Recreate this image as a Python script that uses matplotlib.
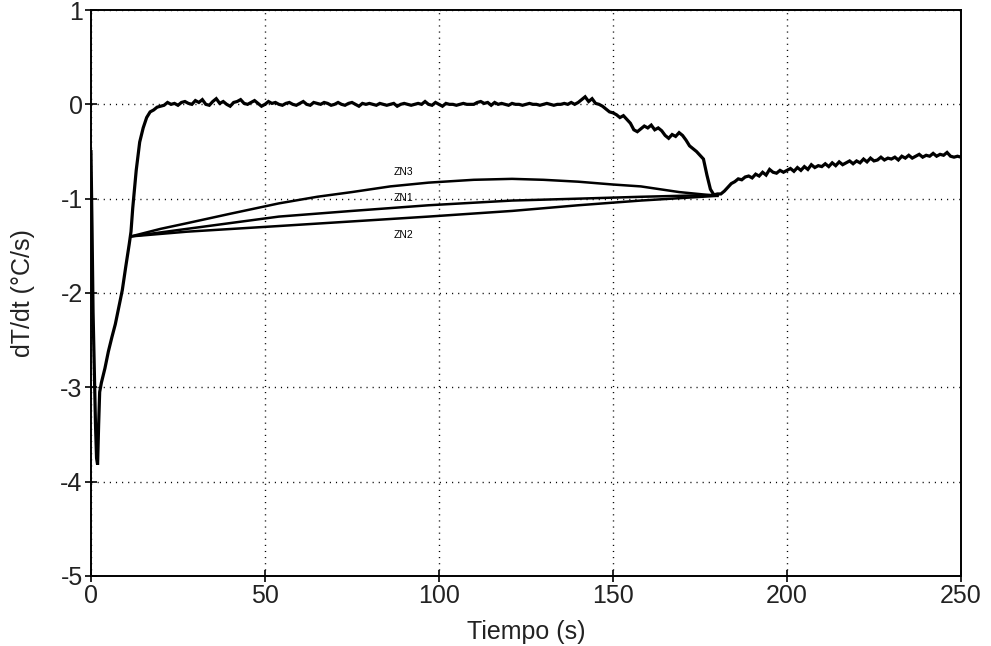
import numpy as np
import matplotlib
matplotlib.use("Agg")
import matplotlib.pyplot as plt

plt.rcParams['font.family'] = ['Liberation Sans', 'DejaVu Sans']
plt.rcParams['axes.unicode_minus'] = False

# ---- data ----
t_start = [0.0, 0.3, 0.6, 1.0, 1.3, 1.6, 1.9, 2.2, 2.5, 3.0, 4.0, 5.0, 6.0, 7.0, 8.0,
           9.0, 10.0, 11.0, 11.5, 12.0, 12.5, 13.0, 13.5, 14.0, 15.0, 16.0, 17.0, 18.0, 19.0]
v_start = [-0.50, -1.30, -2.20, -2.90, -3.40, -3.75, -3.82, -3.40, -3.05, -2.95, -2.80, -2.62,
           -2.47, -2.33, -2.15, -1.97, -1.72, -1.48, -1.35, -1.10, -0.90, -0.70, -0.55, -0.40,
           -0.25, -0.14, -0.08, -0.06, -0.03]

t_main = np.arange(20, 251)
v_main = [
    -0.02, -0.01, 0.02, 0.00, 0.01, -0.01, 0.02, 0.03, 0.01, 0.00,      # 20-29
    0.04, 0.02, 0.05, 0.00, -0.01, 0.03, 0.06, 0.01, 0.03, 0.00,        # 30-39
    -0.02, 0.02, 0.03, 0.05, 0.01, 0.00, 0.02, 0.04, 0.01, -0.02,       # 40-49
    0.00, 0.03, 0.01, 0.02, 0.00, -0.01, 0.01, 0.02, 0.00, -0.01,       # 50-59
    0.01, 0.03, 0.00, -0.01, 0.02, 0.01, 0.00, 0.02, 0.01, -0.01,       # 60-69
    0.00, 0.02, 0.00, -0.01, 0.01, 0.02, 0.00, -0.02, 0.01, 0.00,       # 70-79
    0.01, 0.00, -0.01, 0.01, 0.00, -0.01, 0.00, 0.01, -0.02, 0.00,      # 80-89
    0.01, 0.00, -0.01, 0.00, 0.01, 0.00, 0.03, 0.00, -0.01, 0.02,       # 90-99
    0.00, -0.02, 0.01, 0.00, 0.00, -0.01, 0.00, 0.01, 0.00, 0.00,       # 100-109
    0.00, 0.02, 0.03, 0.01, 0.02, -0.01, 0.02, 0.00, 0.01, 0.00,        # 110-119
    -0.01, 0.01, 0.00, 0.00, -0.01, 0.00, 0.01, 0.00, 0.00, -0.01,      # 120-129
    0.00, 0.01, 0.00, -0.01, 0.00, 0.00, 0.01, 0.00, 0.02, 0.00,        # 130-139
    0.02, 0.05, 0.08, 0.03, 0.06, 0.01, 0.00, -0.02, -0.05, -0.08,      # 140-149
    -0.09, -0.11, -0.14, -0.12, -0.16, -0.20, -0.27, -0.29, -0.26, -0.23,   # 150-159
    -0.25, -0.22, -0.27, -0.25, -0.28, -0.33, -0.36, -0.32, -0.34, -0.30,   # 160-169
    -0.33, -0.38, -0.44, -0.47, -0.50, -0.54, -0.58, -0.75, -0.90, -0.96,   # 170-179
    -0.95, -0.95, -0.92, -0.88, -0.84, -0.82, -0.79, -0.80, -0.77, -0.76,   # 180-189
    -0.78, -0.74, -0.76, -0.72, -0.75, -0.69, -0.72, -0.73, -0.70, -0.72,   # 190-199
    -0.70, -0.68, -0.71, -0.67, -0.70, -0.66, -0.69, -0.64, -0.67, -0.65,   # 200-209
    -0.66, -0.63, -0.66, -0.62, -0.65, -0.61, -0.64, -0.62, -0.60, -0.63,   # 210-219
    -0.60, -0.62, -0.58, -0.61, -0.57, -0.60, -0.59, -0.56, -0.59, -0.57,   # 220-229
    -0.58, -0.56, -0.59, -0.55, -0.57, -0.54, -0.57, -0.55, -0.53, -0.56,   # 230-239
    -0.54, -0.55, -0.52, -0.55, -0.53, -0.54, -0.51, -0.55, -0.56, -0.55,   # 240-249
    -0.56,                                                                  # 250
]

zn3_t = [11.5, 20, 27.6, 40, 54, 65, 75, 86, 97, 110, 121, 130, 140, 150, 158, 169, 180]
zn3_v = [-1.40, -1.32, -1.26, -1.16, -1.05, -0.98, -0.93, -0.87, -0.83, -0.80, -0.79,
         -0.80, -0.82, -0.85, -0.87, -0.93, -0.97]
zn1_t = [11.5, 27.6, 54, 75, 97, 121, 140, 158, 180]
zn1_v = [-1.40, -1.32, -1.19, -1.13, -1.07, -1.02, -1.00, -0.98, -0.96]
zn2_t = [11.5, 27.6, 54, 97, 121, 140, 158, 180]
zn2_v = [-1.40, -1.35, -1.29, -1.19, -1.13, -1.07, -1.02, -0.97]

zn_labels = ['ZN3', 'ZN1', 'ZN2']
zn_label_t = [89.7, 89.7, 89.7]
zn_label_v = [-0.72, -0.99, -1.38]

x_ticks = [0, 50, 100, 150, 200, 250]
y_ticks = [-5, -4, -3, -2, -1, 0, 1]

# ---- figure ----
fig = plt.figure(figsize=(9.91, 6.46), dpi=100)
ax = fig.add_axes([0.0918, 0.1084, 0.8779, 0.8761])

t_all = list(t_start) + list(t_main)
v_all = list(v_start) + list(v_main)
ax.plot(t_all, v_all, color='black', lw=2.3, solid_joinstyle='miter')
ax.plot(zn3_t, zn3_v, color='black', lw=1.8)
ax.plot(zn1_t, zn1_v, color='black', lw=1.8)
ax.plot(zn2_t, zn2_v, color='black', lw=1.8)

for lab, tx, vy in zip(zn_labels, zn_label_t, zn_label_v):
    ax.text(tx, vy, lab, fontsize=7.5, ha='center', va='center', color='black')

ax.set_xlim(0, 250)
ax.set_ylim(-5, 1)
ax.set_xticks(x_ticks)
ax.set_yticks(y_ticks)
ax.grid(True, color='black', linestyle=(0, (0.8, 3.6)), linewidth=1.0)
for s in ax.spines.values():
    s.set_linewidth(1.4)
ax.tick_params(direction='inout', length=8, width=1.2, labelsize=18, pad=2,
               colors='black', labelcolor='#222222')
ax.set_xlabel('Tiempo (s)', fontsize=18, color='#222222')
ax.set_ylabel('dT/dt (°C/s)', fontsize=18, color='#222222')
ax.xaxis.set_label_coords(0.5, -0.078)
ax.yaxis.set_label_coords(-0.064, 0.5)

fig.savefig('out.png', dpi=100)
